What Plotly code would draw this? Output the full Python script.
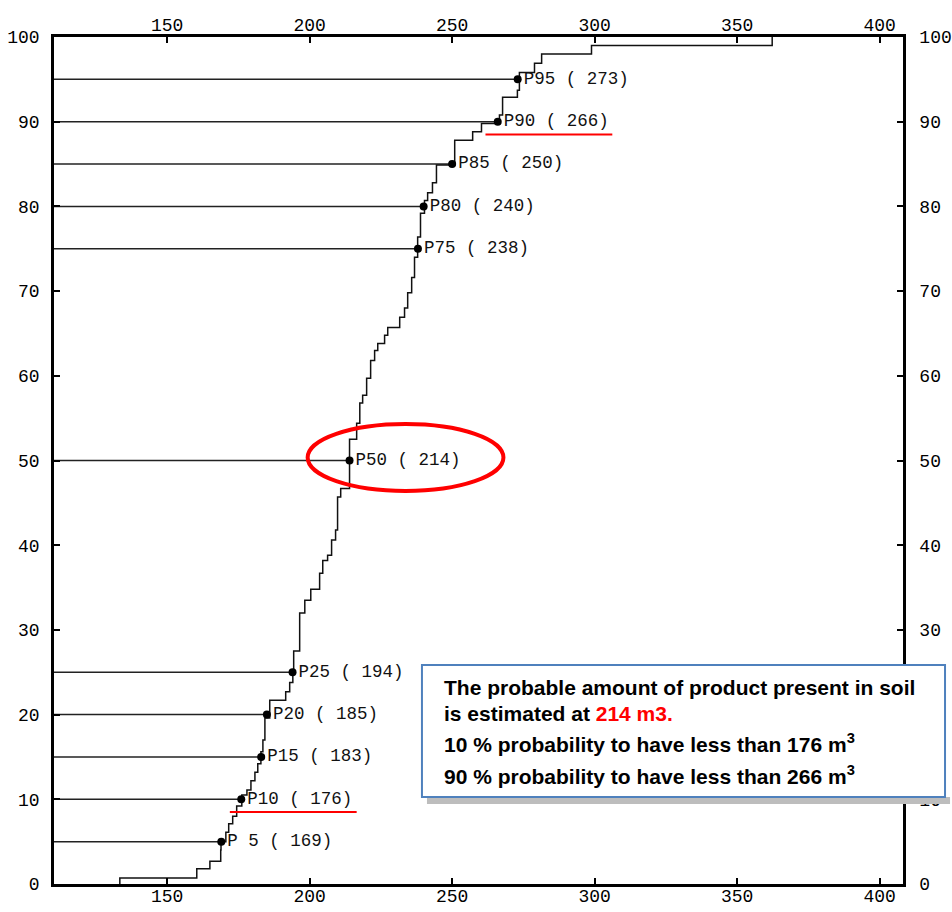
import plotly.graph_objects as go

# ---- data ----
# empirical CDF step breakpoints: value (m3) where each jump happens, cumulative % after the jump
cdf_x = [133.4, 133.4, 160.4, 165.0, 168.8, 168.9, 170.6, 171.6, 173.0, 174.4, 176.2, 178.0,
         179.4, 180.8, 181.8, 182.9, 183.6, 184.3, 186.0, 191.6, 193.0, 194.1, 194.4, 196.5,
         198.3, 200.4, 203.5, 204.6, 206.3, 207.7, 209.1, 209.8, 210.9, 214.0, 216.5, 217.6,
         218.6, 220.0, 221.4, 222.8, 223.9, 226.3, 227.4, 231.6, 233.3, 234.4, 235.8, 236.8,
         237.9, 238.9, 240.3, 241.4, 243.1, 244.5, 250.9, 257.2, 260.3, 266.6, 267.7, 272.9,
         273.6, 278.9, 281.4, 298.9, 362.3]
cdf_y = [0.0, 0.7, 1.8, 2.7, 4.0, 5.0, 6.1, 7.1, 8.0, 9.2, 10.5, 11.1,
         12.2, 13.2, 14.2, 15.6, 17.0, 19.6, 21.7, 22.7, 23.8, 25.3, 27.5, 32.0,
         33.5, 34.8, 36.7, 38.2, 38.8, 40.6, 41.8, 45.7, 46.7, 52.5, 54.4, 56.8,
         57.7, 59.7, 61.8, 63.0, 63.8, 64.8, 65.7, 66.9, 68.0, 69.8, 71.6, 74.0,
         76.4, 79.2, 80.7, 81.6, 82.8, 84.9, 87.8, 88.8, 89.8, 90.8, 92.9, 93.7,
         95.8, 96.9, 98.0, 99.0, 100.0]

percentiles = [5, 10, 15, 20, 25, 50, 75, 80, 85, 90, 95]
pct_values = [169, 176, 183, 185, 194, 214, 238, 240, 250, 266, 273]
pct_names = ["P 5", "P10", "P15", "P20", "P25", "P50", "P75", "P80", "P85", "P90", "P95"]

x_ticks = [150, 200, 250, 300, 350, 400]
y_ticks = [0, 10, 20, 30, 40, 50, 60, 70, 80, 90, 100]

x_range = [110.3, 408.2]
y_range = [0, 100]

mono = "Liberation Mono"
sans = "Liberation Sans, Arial, sans-serif"

labels = [f"{n} ( {v})" for n, v in zip(pct_names, pct_values)]

# horizontal reference lines from the left axis to each percentile point
hx, hy = [], []
for p, v in zip(percentiles, pct_values):
    hx += [x_range[0], v, None]
    hy += [p, p, None]

fig = go.Figure()
fig.add_trace(go.Scatter(x=hx, y=hy, mode="lines",
                         line=dict(color="#222222", width=1.5),
                         hoverinfo="skip", showlegend=False))
fig.add_trace(go.Scatter(x=cdf_x, y=cdf_y, mode="lines", line_shape="hv",
                         line=dict(color="#111111", width=1.5),
                         showlegend=False))
fig.add_trace(go.Scatter(x=pct_values, y=percentiles, mode="markers+text",
                         marker=dict(color="black", size=8),
                         text=labels, textposition="middle right",
                         textfont=dict(family=mono, size=17.5, color="#111111"),
                         showlegend=False))
# invisible trace to anchor the mirrored (top/right) labelled axes
fig.add_trace(go.Scatter(x=pct_values, y=percentiles, mode="markers",
                         marker=dict(opacity=0), xaxis="x2", yaxis="y2",
                         hoverinfo="skip", showlegend=False))

axis_common = dict(showline=True, linecolor="black", linewidth=2.5,
                   ticks="inside", ticklen=6, tickwidth=2, tickcolor="black",
                   showgrid=False, zeroline=False, automargin=False,
                   tickfont=dict(family=mono, size=18, color="black"))

fig.update_layout(
    width=952, height=912,
    margin=dict(l=54, r=49, t=37, b=28, autoexpand=False),
    paper_bgcolor="white", plot_bgcolor="white",
    xaxis=dict(range=x_range, tickvals=x_ticks, side="bottom", ticklabelstandoff=-6, **axis_common),
    xaxis2=dict(range=x_range, tickvals=x_ticks, side="top", overlaying="x",
                anchor="y", ticklabelstandoff=-4, **axis_common),
    yaxis=dict(range=y_range, tickvals=y_ticks, side="left", ticklabelstandoff=8, **axis_common),
    yaxis2=dict(range=y_range, tickvals=y_ticks, side="right", overlaying="y",
                anchor="x", ticklabelstandoff=10, **axis_common),
)

# red highlight marks
fig.add_shape(type="circle", xref="x", yref="y", x0=199.3, x1=268.0, y0=46.4, y1=54.3,
              line=dict(color="red", width=4))
fig.add_shape(type="line", xref="x", yref="y", x0=261.7, x1=306.2, y0=88.5, y1=88.5,
              line=dict(color="red", width=2))
fig.add_shape(type="line", xref="x", yref="y", x0=172.0, x1=216.5, y0=8.5, y1=8.5,
              line=dict(color="red", width=2))

# text box with shadow strip
fig.add_shape(type="rect", xref="paper", yref="paper", x0=0.4393, x1=1.0554, y0=0.0944, y1=0.1027,
              line=dict(width=0), fillcolor="#bdbdbd", layer="above")
fig.add_shape(type="rect", xref="paper", yref="paper", x0=0.4334, x1=1.0495, y0=0.1027, y1=0.2585,
              line=dict(color="#4f81bd", width=2), fillcolor="white", layer="above")

box_lines = [
    ("The probable amount of product present in soil", 0.2325),
    ("is estimated at <span style='color:red'>214 m3.</span>", 0.2018),
    ("10 % probability to have less than 176 m<sup>3</sup>", 0.1664),
    ("90 % probability to have less than 266 m<sup>3</sup>", 0.1286),
]
for txt, yy in box_lines:
    fig.add_annotation(text=f"<b>{txt}</b>", xref="paper", yref="paper", x=0.457, y=yy,
                       xanchor="left", yanchor="middle", showarrow=False,
                       font=dict(family=sans, size=21, color="black"))

fig.write_html("out.html", config={"displayModeBar": False},
               post_script="document.body.style.margin='0';document.body.style.overflow='hidden';")
